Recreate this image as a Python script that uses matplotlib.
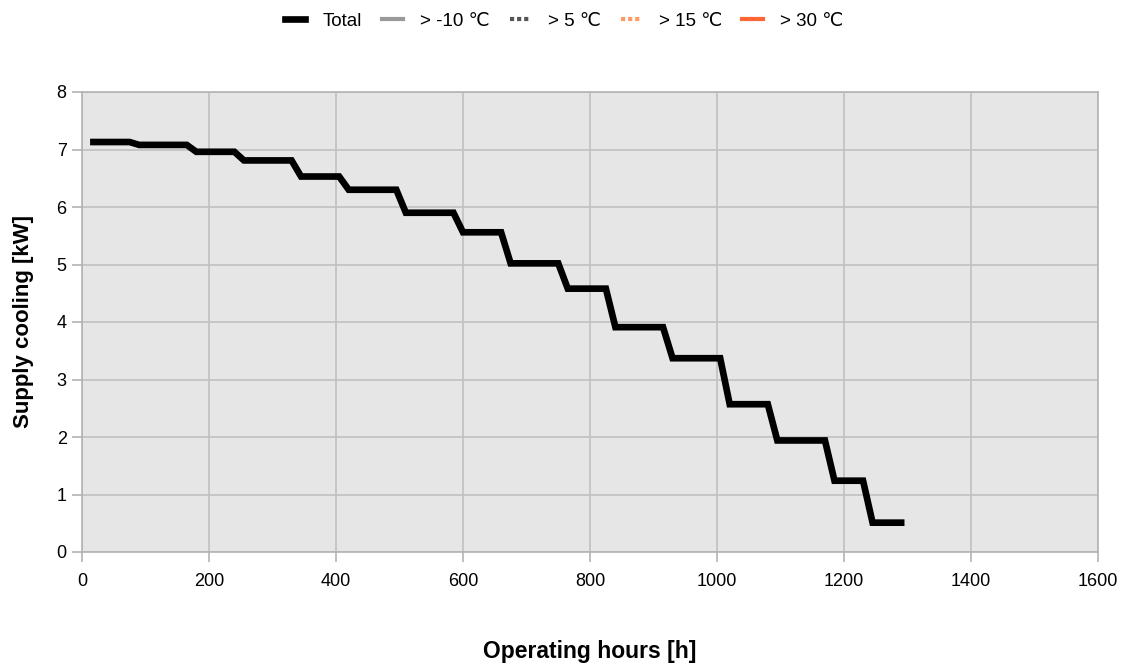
import matplotlib
matplotlib.use('Agg')
import matplotlib.pyplot as plt

# supply cooling vs operating hours (staircase)
hours = [18, 75, 90, 165, 180, 240, 255, 330, 345, 405, 420, 495, 510, 585,
         600, 660, 675, 750, 765, 825, 840, 915, 930, 1005, 1020, 1080,
         1095, 1170, 1185, 1230, 1245, 1290]
total_kw = [7.13, 7.13, 7.08, 7.08, 6.96, 6.96, 6.81, 6.81, 6.53, 6.53,
            6.30, 6.30, 5.90, 5.90, 5.56, 5.56, 5.02, 5.02, 4.58, 4.58,
            3.91, 3.91, 3.37, 3.37, 2.57, 2.57, 1.94, 1.94, 1.24, 1.24,
            0.51, 0.51]

# other series have no visible data
series_labels = ['> -10 ℃', '> 5 ℃', '> 15 ℃', '> 30 ℃']
series_colors = ['#999999', '#555555', '#ff9966', '#ff6633']
series_styles = ['-', (0, (1, 0.7)), (0, (1, 0.7)), '-']

plt.rcParams['font.family'] = ['Liberation Sans', 'DejaVu Sans']

fig = plt.figure(figsize=(11.28, 6.64), dpi=100)
ax = fig.add_axes([82 / 1128, 1 - 552 / 664, 1016 / 1128, 460 / 664])
ax.set_facecolor('#e6e6e6')

ax.plot(hours, total_kw, color='black', lw=4.8, solid_joinstyle='miter', label='Total', zorder=3)
for lab, c, ls in zip(series_labels, series_colors, series_styles):
    ax.plot([], [], color=c, ls=ls, lw=3, label=lab)

ax.set_xlim(0, 1600)
ax.set_ylim(0, 8)
ax.set_xticks(range(0, 1601, 200))
ax.set_yticks(range(0, 9))
ax.grid(True, color='#c0c0c0', lw=1.2)
ax.set_axisbelow(True)
for s in ax.spines.values():
    s.set_color('#b3b3b3')
    s.set_linewidth(1.2)
ax.tick_params(colors='#b3b3b3', labelcolor='black', labelsize=13, length=7, width=1.2)
ax.tick_params(axis='x', pad=8)
ax.tick_params(axis='y', pad=4)

ax.set_xlabel('Operating hours [h]', fontsize=16.5, fontweight='bold')
ax.set_ylabel('Supply cooling [kW]', fontsize=16, fontweight='bold')
ax.xaxis.set_label_coords(0.5, -0.191)
ax.yaxis.set_label_coords(-0.047, 0.5)

fig.legend(loc='center', bbox_to_anchor=(0.5, 1 - 21 / 664), ncol=5, frameon=False,
           fontsize=13.5, handlelength=1.1, handletextpad=0.9, columnspacing=1.1)

fig.savefig('out.png', dpi=100)
